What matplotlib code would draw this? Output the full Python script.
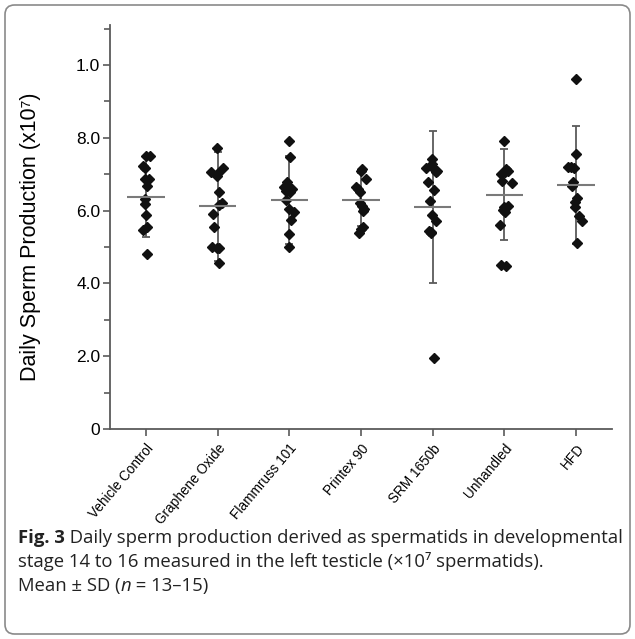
import matplotlib
matplotlib.use('Agg')
import matplotlib.pyplot as plt
from matplotlib.patches import FancyBboxPatch
from matplotlib.ticker import MultipleLocator

categories = ["Vehicle Control", "Graphene Oxide", "Flammruss 101", "Printex 90",
              "SRM 1650b", "Unhandled", "HFD"]

vehicle_control = [7.49, 7.49, 7.22, 7.18, 6.87, 6.87, 6.68, 6.32, 6.18, 5.88, 5.54, 5.47, 4.82]
graphene_oxide = [7.71, 7.16, 7.07, 7.03, 6.94, 6.50, 6.21, 6.15, 5.90, 5.54, 5.00, 4.98, 4.96, 4.55]
flammruss_101 = [7.90, 7.47, 6.78, 6.66, 6.64, 6.59, 6.55, 6.50, 6.30, 6.04, 5.97, 5.75, 5.35, 4.99]
printex_90 = [7.14, 7.10, 6.87, 6.66, 6.59, 6.52, 6.22, 6.13, 6.04, 5.99, 5.54, 5.49, 5.38]
srm_1650b = [7.42, 7.28, 7.16, 7.12, 7.10, 7.05, 6.79, 6.57, 6.27, 5.88, 5.72, 5.44, 5.42, 5.38, 1.96]
unhandled = [7.92, 7.15, 7.10, 7.07, 7.00, 6.82, 6.76, 6.12, 6.09, 6.02, 5.95, 5.60, 4.51, 4.49]
hfd = [9.62, 7.56, 7.20, 7.19, 7.17, 6.78, 6.68, 6.36, 6.24, 6.09, 5.86, 5.72, 5.12]

groups = [vehicle_control, graphene_oxide, flammruss_101, printex_90, srm_1650b, unhandled, hfd]

# group means and SD
means = [6.38, 6.12, 6.28, 6.30, 6.10, 6.44, 6.70]
sds = [1.10, 1.50, 1.21, 0.73, 2.10, 1.25, 1.62]

# horizontal scatter offsets of the points (approx. pixels as seen)
jitter_px = [
    [0, 4, -3, -1, -1, 3, 1, -1, -1, 0, 1, -3, 1],
    [-1, 5, -7, 0, -1, 1, 4, 1, -5, -4, -6, 1, -1, 1],
    [0, 1, -2, 0, -5, 3, -3, 1, -3, 0, 5, 2, 0, 0],
    [1, 0, 5, -5, -3, -1, -1, 1, 3, 2, 2, 0, -2],
    [-1, -1, -7, 2, 4, 3, -5, 1, -3, -1, 3, -4, -2, -2, 1],
    [0, 2, 4, 1, -3, -2, 8, 4, 0, -1, 1, -4, -3, 2],
    [0, 0, -8, -5, -2, -3, -4, 1, -1, -1, 3, 6, 1],
]

ytick_vals = [0, 2, 4, 6, 8, 10]
ytick_labels = ["0", "2.0", "4.0", "6.0", "8.0", "1.0"]

CHART_FONT = ['Liberation Sans', 'DejaVu Sans']
CAP_FONT = ['Open Sans', 'DejaVu Sans']

fig = plt.figure(figsize=(6.35, 6.39), dpi=100)
W, H = 635, 639

# rounded frame
frame = FancyBboxPatch((5 / W, 5 / H), 625 / W, 629 / H,
                       boxstyle="round,pad=0,rounding_size=0.015",
                       transform=fig.transFigure, facecolor='none',
                       edgecolor='#8a8a8a', linewidth=1.2)
fig.patches.append(frame)

ax = fig.add_axes([110 / W, 1 - 429 / H, (612 - 110) / W, (429 - 25) / H])

px_per_cat = (612 - 110) / 7.0
gray = '#5a5a5a'
for i, vals in enumerate(groups):
    xc = i + 1
    xs = [xc + j / px_per_cat for j in jitter_px[i]]
    ax.errorbar([xc], [means[i]], yerr=[sds[i]], fmt='none', ecolor=gray,
                elinewidth=1.3, capsize=3.2, capthick=1.3, zorder=2)
    ax.plot(xs, vals, linestyle='none', marker='D', markersize=5.2,
            color='#111111', zorder=3)
    ax.plot([xc - 0.26, xc + 0.26], [means[i], means[i]], color='#7a7a7a',
            linewidth=1.5, zorder=4, solid_capstyle='butt')

ax.set_xlim(0.5, 7.5)
ax.set_ylim(0, 11.1)
ax.set_yticks(ytick_vals)
ax.set_yticklabels(ytick_labels, fontsize=12.5, family=CHART_FONT)
ax.yaxis.set_minor_locator(MultipleLocator(1))
ax.set_xticks(range(1, len(categories) + 1))
ax.set_xticklabels(categories, rotation=50, ha='right', rotation_mode='anchor',
                   fontsize=9.8, family=CHART_FONT)
for s in ['top', 'right']:
    ax.spines[s].set_visible(False)
for s in ['left', 'bottom']:
    ax.spines[s].set_color(gray)
    ax.spines[s].set_linewidth(1.3)
ax.tick_params(axis='both', which='major', length=5, width=1.2, color=gray,
               direction='out', pad=2)
ax.tick_params(axis='x', which='major', pad=4)
ax.tick_params(axis='y', which='minor', length=4, width=1.2, color=gray)
ax.set_ylabel("Daily Sperm Production (x10\u2077)", fontsize=15.5,
              family=CHART_FONT)
ax.yaxis.set_label_coords(-0.137, 0.475)

# caption
renderer = fig.canvas.get_renderer()


def write_line(pieces, x_px, y_px, size=13.3):
    x = x_px / W
    y = 1 - y_px / H
    for text, weight, style in pieces:
        t = fig.text(x, y, text, fontsize=size, family=CAP_FONT,
                     fontweight=weight, fontstyle=style, va='baseline', ha='left',
                     color='#222222')
        bb = t.get_window_extent(renderer=renderer)
        x += bb.width / W


write_line([("Fig. 3", 'bold', 'normal'),
            (" Daily sperm production derived as spermatids in developmental", 'normal', 'normal')],
           18, 543)
write_line([("stage 14 to 16 measured in the left testicle (\u00d710\u2077 spermatids).", 'normal', 'normal')],
           18, 567)
write_line([("Mean \u00b1 SD (", 'normal', 'normal'), ("n", 'normal', 'italic'),
            (" = 13\u201315)", 'normal', 'normal')],
           18, 591)

fig.savefig('out.png', dpi=100)
